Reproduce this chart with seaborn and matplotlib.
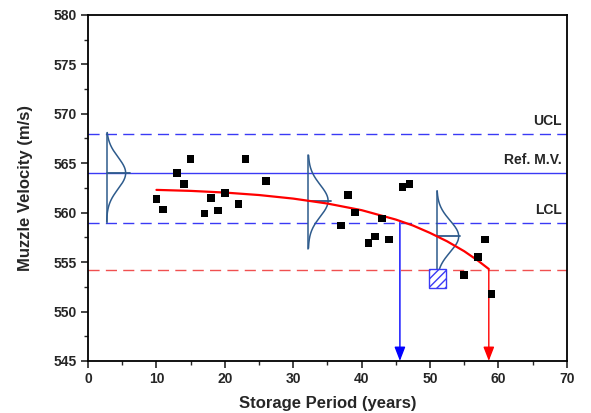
import numpy as np
import pandas as pd
import matplotlib
matplotlib.use("Agg")
import matplotlib.pyplot as plt
import seaborn as sns

# ---- data ----
years = [10, 11, 13, 14, 15, 17, 18, 19, 20, 22, 23, 26,
         37, 38, 39, 41, 42, 43, 44, 46, 47, 55, 57, 58, 59]
mv = [561.4, 560.3, 564.0, 562.9, 565.4, 559.9, 561.5, 560.2, 562.0, 560.9, 565.4, 563.2,
      558.7, 561.8, 560.0, 556.9, 557.6, 559.4, 557.3, 562.6, 562.9, 553.7, 555.5, 557.3, 551.8]

fit_x = [10, 15, 20, 25, 30, 35, 40, 45, 47.5, 50, 52.5, 55, 57, 58.6]
fit_y = [562.30, 562.20, 562.03, 561.78, 561.42, 560.92, 560.25, 559.30,
         558.70, 557.95, 557.10, 556.10, 555.15, 554.30]

ucl, ref_mv, lcl, limit = 568.0, 564.0, 559.0, 554.2
lcl_year, limit_year = 45.6, 58.6

dist_x0 = [2.7, 32.2, 51.0]
dist_mean = [564.0, 561.2, 557.6]
dist_sd = [1.6, 1.6, 1.6]
dist_amp = [2.8, 2.9, 3.2]
dist_bar = [3.4, 3.3, 3.4]
dist_lo = [559.1, 556.4, 552.9]
dist_hi = [568.1, 565.8, 562.2]

box_x, box_y = 51.1, 553.35

# ---- style ----
sns.set_theme(style="ticks")
plt.rcParams['font.family'] = ['Liberation Sans', 'DejaVu Sans']
plt.rcParams['font.weight'] = 'bold'

fig = plt.figure(figsize=(5.91, 4.13), dpi=100)
ax = fig.add_axes([0.149, 0.126, 0.81, 0.838])

blue = '#3a3af5'
dist_col = '#2e5b8c'

# reference lines
ax.axhline(ucl, color=blue, lw=1.0, dashes=(8, 4.5), zorder=1)
ax.axhline(ref_mv, color=blue, lw=1.0, zorder=1)
ax.axhline(lcl, color=blue, lw=1.0, dashes=(8, 4.5), zorder=1)
ax.axhline(limit, color='#f05050', lw=1.0, dashes=(8, 4.5), zorder=1)

# distributions
for x0, m, s, a, b, lo, hi in zip(dist_x0, dist_mean, dist_sd, dist_amp, dist_bar, dist_lo, dist_hi):
    yy = np.linspace(lo, hi, 200)
    xx = x0 + a * np.exp(-(yy - m) ** 2 / (2 * s ** 2))
    ax.plot(xx, yy, color=dist_col, lw=1.1, zorder=2)
    ax.plot([x0, x0], [lo - 0.1, hi], color=dist_col, lw=1.1, zorder=2)
    ax.plot([x0, x0 + b], [m, m], color=dist_col, lw=1.3, zorder=2)

# hatched box
ax.add_patch(plt.Rectangle((box_x - 1.2, box_y - 0.95), 2.4, 1.9, facecolor='white',
                           edgecolor=blue, hatch='////', lw=1.0, zorder=3))

# fitted curve
fit_df = pd.DataFrame({'x': fit_x, 'y': fit_y})
sns.lineplot(data=fit_df, x='x', y='y', color='red', lw=1.6, ax=ax, zorder=4)

# arrows
for xv, y0, col in [(lcl_year, lcl, 'blue'), (limit_year, limit, 'red')]:
    ax.annotate('', xy=(xv, 545), xytext=(xv, y0),
                arrowprops=dict(arrowstyle='-|>,head_width=0.33,head_length=0.85',
                                color=col, lw=1.0, shrinkA=0, shrinkB=0, mutation_scale=10),
                zorder=5)

# scatter
pts = pd.DataFrame({'Storage Period': years, 'Muzzle Velocity': mv})
sns.scatterplot(data=pts, x='Storage Period', y='Muzzle Velocity', marker='s', s=30,
                color='black', edgecolor='none', ax=ax, zorder=6)

# labels
for txt, yv in [('UCL', ucl), ('Ref. M.V.', ref_mv), ('LCL', lcl)]:
    ax.text(69.3, yv + 0.9, txt, ha='right', va='baseline', fontsize=10, fontweight='bold')

ax.set_xlim(0, 70)
ax.set_ylim(545, 580)
ax.set_xticks(range(0, 71, 10))
ax.set_yticks(range(545, 581, 5))
ax.set_xticks(range(5, 70, 10), minor=True)
ax.set_yticks(np.arange(547.5, 580, 5), minor=True)
ax.tick_params(axis='both', which='major', direction='out', length=5, width=1.2,
               labelsize=10, pad=3)
ax.tick_params(axis='both', which='minor', direction='out', length=3, width=1.0)
for lab in ax.get_xticklabels() + ax.get_yticklabels():
    lab.set_fontweight('bold')
for sp in ax.spines.values():
    sp.set_linewidth(1.3)
    sp.set_color('black')
ax.set_xlabel('Storage Period (years)', fontsize=12, fontweight='bold', labelpad=7)
ax.set_ylabel('Muzzle Velocity (m/s)', fontsize=12, fontweight='bold', labelpad=15)

fig.savefig('out.png', dpi=100)
